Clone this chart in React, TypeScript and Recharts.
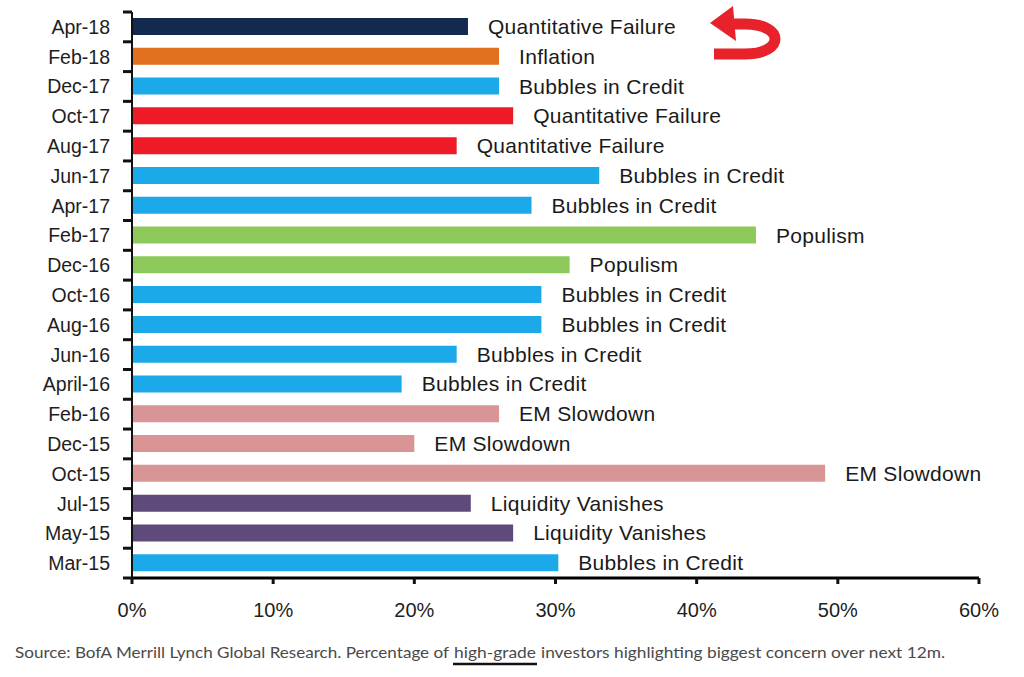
import React from 'react';
import { BarChart, Bar, XAxis, YAxis, Cell, LabelList } from 'recharts';

const categories = ['Apr-18', 'Feb-18', 'Dec-17', 'Oct-17', 'Aug-17', 'Jun-17', 'Apr-17', 'Feb-17', 'Dec-16', 'Oct-16', 'Aug-16', 'Jun-16', 'April-16', 'Feb-16', 'Dec-15', 'Oct-15', 'Jul-15', 'May-15', 'Mar-15'];
const values = [23.8, 26, 26, 27, 23, 33.1, 28.3, 44.2, 31, 29, 29, 23, 19.1, 26, 20, 49.1, 24, 27, 30.2];
const concerns = ['Quantitative Failure', 'Inflation', 'Bubbles in Credit', 'Quantitative Failure', 'Quantitative Failure', 'Bubbles in Credit', 'Bubbles in Credit', 'Populism', 'Populism', 'Bubbles in Credit', 'Bubbles in Credit', 'Bubbles in Credit', 'Bubbles in Credit', 'EM Slowdown', 'EM Slowdown', 'EM Slowdown', 'Liquidity Vanishes', 'Liquidity Vanishes', 'Bubbles in Credit'];
const NAVY = '#13294d';
const ORANGE = '#e2711f';
const BLUE = '#1ca9e9';
const RED = '#ee1a26';
const GREEN = '#8dc95a';
const PINK = '#d99595';
const PURPLE = '#5f4a7c';
const colors = [NAVY, ORANGE, BLUE, RED, RED, BLUE, BLUE, GREEN, GREEN, BLUE, BLUE, BLUE, BLUE, PINK, PINK, PINK, PURPLE, PURPLE, BLUE];
const xTicks = [0, 10, 20, 30, 40, 50, 60];

const data = categories.map((c, i) => ({ month: c, value: values[i], concern: concerns[i] }));

const CHART_W = 1024;
const CHART_H = 640;
const MARGIN = { top: 12, right: 45, bottom: 22, left: 0 };
const X_AXIS_H = 40;
const Y_AXIS_W = 132;
const PLOT_H = CHART_H - MARGIN.top - MARGIN.bottom - X_AXIS_H;
const BAND = PLOT_H / categories.length;
const Y_TICK_SIZE = 9;
const Y_TICK_MARGIN = 13;
const X_TICK_SIZE = 6;
const X_TICK_MARGIN = 19;

const FONT = '"Liberation Sans", Arial, sans-serif';

const YTick = (props: any) => {
  const { x, y, payload, index } = props;
  const nx = Number(x);
  const ny = Number(y);
  const axisX = nx + Y_TICK_SIZE + Y_TICK_MARGIN;
  const isLast = index === categories.length - 1;
  const top = ny - BAND / 2;
  const bottom = ny + BAND / 2;
  return (
    <g>
      <text x={nx} y={ny} textAnchor="end" dominantBaseline="central" fontSize={19.5} fill="#1e1e1e" fontFamily={FONT}>
        {payload.value}
      </text>
      <path d={`M${axisX - Y_TICK_SIZE},${top}L${axisX},${top}`} stroke="#111" strokeWidth={3} fill="none" />
      {isLast ? <path d={`M${axisX - Y_TICK_SIZE},${bottom}L${axisX},${bottom}`} stroke="#111" strokeWidth={3} fill="none" /> : null}
    </g>
  );
};

const XTick = (props: any) => {
  const { x, y, payload } = props;
  const nx = Number(x);
  const ny = Number(y);
  const axisY = ny - X_TICK_SIZE - X_TICK_MARGIN;
  return (
    <g>
      <path d={`M${nx},${axisY}L${nx},${axisY + X_TICK_SIZE}`} stroke="#111" strokeWidth={3} fill="none" />
      <text x={nx} y={ny} dy="0.71em" textAnchor="middle" fontSize={20} fill="#1e1e1e" fontFamily={FONT}>
        {`${payload.value}%`}
      </text>
    </g>
  );
};

const ConcernLabel = (props: any) => {
  const { x, y, width, height, value } = props;
  return (
    <text
      x={x + width + 20}
      y={y + height / 2}
      dominantBaseline="central"
      fontSize={21}
      letterSpacing={0.3}
      fill="#1a1a1a"
      fontFamily={FONT}
    >
      {value}
    </text>
  );
};

export default function App() {
  return (
    <div style={{ position: 'absolute', left: 0, top: 0, width: 1024, height: 677, background: '#fff', overflow: 'hidden' }}>
      <BarChart width={CHART_W} height={CHART_H} data={data} layout="vertical" margin={MARGIN}>
        <XAxis
          type="number"
          domain={[0, 60]}
          ticks={xTicks}
          height={X_AXIS_H}
          axisLine={{ stroke: '#000', strokeWidth: 3 }}
          tickLine={false}
          tickSize={X_TICK_SIZE}
          tickMargin={X_TICK_MARGIN}
          tick={XTick}
          interval={0}
        />
        <YAxis
          type="category"
          dataKey="month"
          width={Y_AXIS_W}
          axisLine={{ stroke: '#111', strokeWidth: 2 }}
          tickLine={false}
          tickSize={Y_TICK_SIZE}
          tickMargin={Y_TICK_MARGIN}
          tick={YTick}
          interval={0}
        />
        <Bar dataKey="value" barSize={17} isAnimationActive={false}>
          {data.map((d, i) => (
            <Cell key={d.month} fill={colors[i]} />
          ))}
          <LabelList dataKey="concern" content={<ConcernLabel />} />
        </Bar>
      </BarChart>
      <svg width={1024} height={677} style={{ position: 'absolute', left: 0, top: 0, pointerEvents: 'none' }}>
        <path d="M 714 54 L 745 54 C 785 54, 785 24, 745 24 L 730 24" fill="none" stroke="#e8222b" strokeWidth={11} strokeLinejoin="round" />
        <polygon points="710,23 733,6 736,41" fill="#e8222b" />
        <g fontFamily='Lato, "Open Sans", sans-serif' fontSize={16} fill="#4a4a4a">
          <text x={15} y={658} textLength={434} lengthAdjust="spacingAndGlyphs">Source:  BofA Merrill Lynch Global Research. Percentage of</text>
          <text x={454} y={658} textLength={82} lengthAdjust="spacingAndGlyphs">high-grade</text>
          <text x={541} y={658} textLength={404} lengthAdjust="spacingAndGlyphs">investors highlighting  biggest concern over next 12m.</text>
        </g>
        <line x1={453} x2={537} y1={664} y2={664} stroke="#111" strokeWidth={2.5} />
      </svg>
    </div>
  );
}
